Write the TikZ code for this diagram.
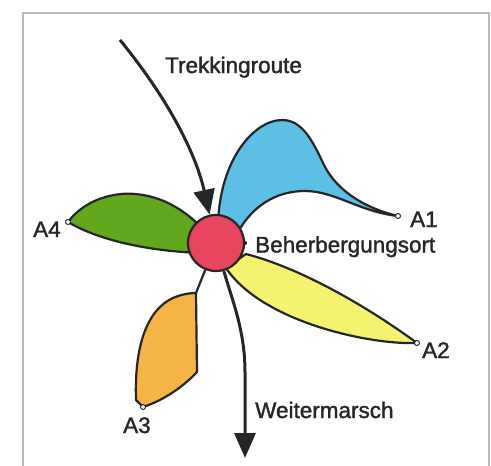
\documentclass[tikz,border=0pt]{standalone}
\usepackage{fontspec}
\setmainfont{Liberation Sans}[FakeBold=1.5]
\usetikzlibrary{arrows.meta}
\definecolor{petalblue}{HTML}{5EBFE6}
\definecolor{petalgreen}{HTML}{62A81E}
\definecolor{petalyellow}{HTML}{F5F270}
\definecolor{petalorange}{HTML}{F5B446}
\definecolor{ortred}{HTML}{E8455F}
\definecolor{ink}{HTML}{262626}

\tikzset{
    petal/.style={draw=ink, line width=2.2pt, line join=round},
    tipmark/.style={circle, draw=ink, fill=white, line width=1pt, inner sep=0pt, minimum size=5pt},
    dotmark/.style={circle, fill=ink, inner sep=0pt, minimum size=4pt},
    lbl/.style={anchor=base west, inner sep=0pt, text=ink, font=\fontsize{22.5}{27}\selectfont},
    route/.style={draw=ink, line width=3pt, -{Triangle[length=25pt,width=21pt]}}
}

\begin{document}
\begin{tikzpicture}[x=1pt,y=-1pt]
    \useasboundingbox (0,0) rectangle (491,466);
    % Frame
    \draw[gray!55, line width=1.5pt] (23,13) rectangle (489,480);

    % Petal tips and route points
    \coordinate (p1) at (398,216);
    \coordinate (p2) at (417,343);
    \coordinate (p3) at (143,407);
    \coordinate (p4) at (68,222);
    \coordinate (o3) at (196,293);
    \coordinate (start) at (120,40);
    \coordinate (bend) at (245,372);
    \coordinate (finish) at (245,458);

    % Blue petal (A1)
    \filldraw[petal, fill=petalblue] (218,224) .. controls (220,158) and (255,120) .. (282,120)
        .. controls (303,120) and (313,142) .. (324,165)
        .. controls (339,195) and (372,210) .. (p1)
        .. controls (360,212) and (335,191) .. (305,191)
        .. controls (275,191) and (252,207) .. (238,232) -- cycle;

    % Green petal (A4)
    \filldraw[petal, fill=petalgreen] (p4) .. controls (85,199) and (115,192) .. (135,194)
        .. controls (160,196) and (182,208) .. (200,226) -- (200,253)
        .. controls (150,251) and (100,241) .. (p4) -- cycle;

    % Yellow petal (A2)
    \filldraw[petal, fill=petalyellow] (246,254) .. controls (300,268) and (365,305) .. (p2)
        .. controls (370,345) and (262,322) .. (226,268) -- cycle;

    % Orange petal (A3)
    \filldraw[petal, fill=petalorange] (o3) .. controls (190,293) and (184,294) .. (178,296)
        .. controls (150,305) and (134,340) .. (136,400) -- (p3)
        .. controls (165,400) and (185,385) .. (197,372) -- cycle;

    % Accommodation
    \node[circle, draw=ink, fill=ortred, line width=2.2pt, minimum size=56pt, inner sep=0pt] (ort) at (216,243) {};
    \node[dotmark] (dot) at (ort.east) {};
    \draw[petal] (o3) -- (ort);

    \foreach \p in {p1,p2,p3,p4} {
        \node[tipmark] at (\p) {};
    }

    % Routes
    \draw[route] (start) .. controls (165,95) and (195,150) .. (ort);
    \draw[route] (ort) .. controls (232,300) and (245,330) .. (bend) -- (finish);

    % Labels
    \node[lbl] (trek) at (165,73) {Trekkingroute};
    \node[lbl] (ortlbl) at (255,252.5) {Beherbergungsort};
    \node[lbl] (weiter) at (255,418) {Weitermarsch};
    \node[lbl] (a1) at (410,227) {A1};
    \node[lbl] (a2) at (422,358) {A2};
    \node[lbl] (a3) at (123,433) {A3};
    \node[lbl] (a4) at (33,237) {A4};
\end{tikzpicture}
\end{document}
